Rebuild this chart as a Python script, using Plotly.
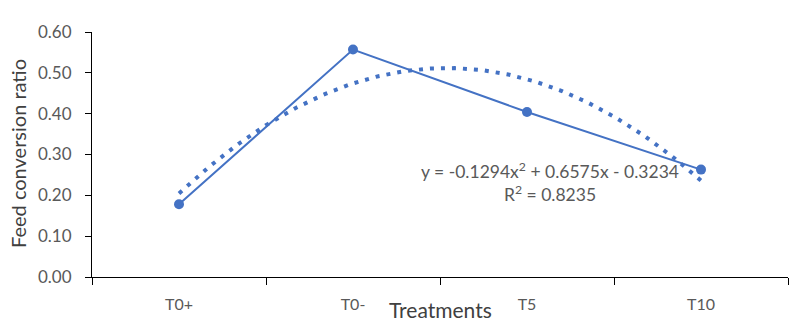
import numpy as np
import plotly.graph_objects as go

categories = ["T0+", "T0-", "T5", "T10"]
fcr_values = [0.178, 0.557, 0.404, 0.263]
# Polynomial trendline coefficients as printed on the chart (x = 1..4)
trend_coefs = [-0.1294, 0.6575, -0.3234]
r_squared = 0.8235
y_ticks = [0.0, 0.1, 0.2, 0.3, 0.4, 0.5, 0.6]

BLUE = "#4472C4"
GRAY = "#595959"
FONT = "Lato"
L, R, T, B = 92, 12, 32, 58

xs = np.linspace(1, 4, 200)
ys = np.polyval(trend_coefs, xs)

fig = go.Figure()
fig.add_trace(go.Scatter(
    x=xs - 1, y=ys, mode="lines", xaxis="x2",
    line=dict(color=BLUE, width=4, dash="4px,7px"),
    showlegend=False, hoverinfo="skip"))
fig.add_trace(go.Scatter(
    x=categories, y=fcr_values, mode="lines+markers",
    line=dict(color=BLUE, width=2),
    marker=dict(color=BLUE, size=10),
    showlegend=False))

fig.update_layout(
    width=800, height=335,
    margin=dict(l=L, r=R, t=T, b=B),
    paper_bgcolor="white", plot_bgcolor="white",
    font=dict(family=FONT, color=GRAY),
    xaxis=dict(type="category", range=[-0.5, 3.5], tickson="boundaries",
               ticks="outside", ticklen=7, tickcolor="black",
               showline=True, linecolor="black", linewidth=1,
               showgrid=False, zeroline=False,
               tickfont=dict(family=FONT, size=16, color=GRAY),
               ticklabelstandoff=13),
    xaxis2=dict(overlaying="x", range=[-0.5, 3.5], visible=False),
    yaxis=dict(range=[0, 0.6], tickvals=y_ticks, tickformat=".2f",
               ticks="outside", ticklen=6, tickcolor="black",
               showline=True, linecolor="black", linewidth=1,
               showgrid=False, zeroline=False,
               tickfont=dict(family=FONT, size=17, color=GRAY),
               ticklabelstandoff=10),
)

def px_to_paper_x(px):
    return (px - L) / (800 - L - R)

def px_to_paper_y(py):
    return (335 - B - py) / (335 - T - B)

def note(px, py, text, size, color, angle=0):
    fig.add_annotation(x=px_to_paper_x(px), y=px_to_paper_y(py),
                       xref="paper", yref="paper", text=text, showarrow=False,
                       xanchor="center", yanchor="middle", textangle=angle,
                       font=dict(family=FONT, size=size, color=color))

eq = "y = -0.1294x<sup>2</sup> + 0.6575x - 0.3234"
note(550, 170, eq, 17.5, GRAY)
note(550, 194, "R<sup>2</sup> = %.4f" % r_squared, 17.5, GRAY)
note(440, 309, "Treatments", 21, "#404040")
note(18, 154, "Feed conversion ratio", 20, "#404040", angle=-90)

fig.write_html("out.html")
